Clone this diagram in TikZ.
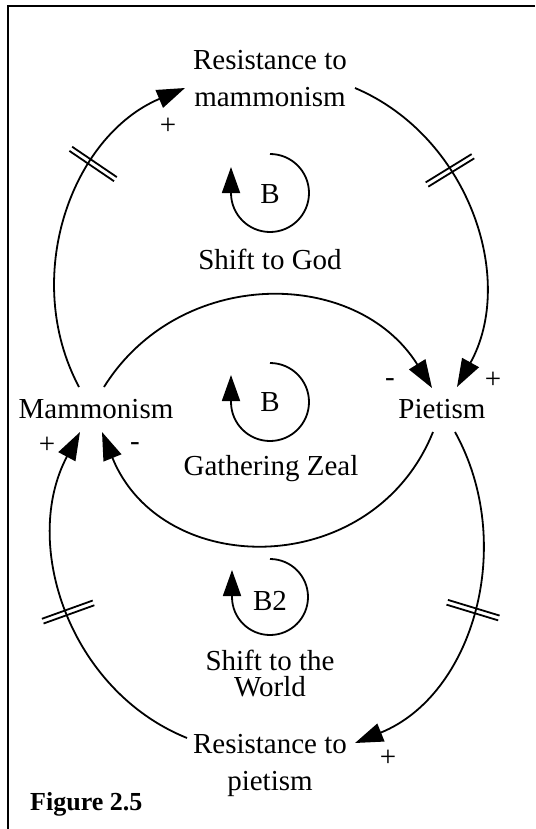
\documentclass[tikz,border=0pt]{standalone}
\usepackage{fontspec}
\setmainfont{Liberation Serif}
\usepackage{tikz}
\usetikzlibrary{positioning, arrows.meta, decorations.markings}
\tikzset{
    var/.style={font=\fontsize{29}{37}\selectfont, align=center, inner sep=2pt},
    link/.style={line width=1.8pt, -{Triangle[length=28pt, width=19pt]}},
    loopsym/.style={line width=1.8pt, -{Triangle[length=26pt, width=18pt]}},
    sign/.style={font=\fontsize{29}{30}\selectfont, inner sep=0pt},
    delay/.style={postaction={decorate, decoration={markings,
        mark=at position #1 with {\draw[-, line width=1.8pt] (-2.5pt,-27pt) -- (-2.5pt,27pt) (2.5pt,-27pt) -- (2.5pt,27pt);}}}}
}

\begin{document}
\begin{tikzpicture}[x=1pt, y=1pt]
    \useasboundingbox (0,0) rectangle (535,-829);
    % Frame
    \draw[line width=1.8pt] (8,-829) -- (8,-6) -- (535,-6);

    % Variables
    \node[var] (resm) at (270,-79) {Resistance to\\mammonism};
    \node[var] (mam) at (96,-409) {Mammonism};
    \node[var] (piet) at (442,-409) {Pietism};
    \node[var] (resp) at (270,-765) {Resistance to\\pietism};

    % Loop names
    \node[var] (god) at (270,-259) {Shift to God};
    \node[var] (zeal) at (271,-469) {Gathering Zeal};
    \node[var, font=\fontsize{29}{26}\selectfont] (world) at (270,-674) {Shift to the\\World};

    % Loop symbols
    \draw[loopsym] (270,-154) arc[start angle=90, end angle=-180, radius=39] -- ++(0,26);
    \node[var] (b1) at (270,-194) {B};
    \draw[loopsym] (270,-363) arc[start angle=90, end angle=-180, radius=39] -- ++(0,27);
    \node[var] (b2) at (270,-402) {B};
    \draw[loopsym] (270,-559) arc[start angle=90, end angle=-180, radius=38] -- ++(0,27);
    \node[var] (b3) at (270,-601) {B2};

    % Links
    \draw[link, delay=0.66] ([shift={(-17,22)}]mam.center) to[out=118, in=203] ([shift={(-85,-9)}]resm.center);
    \draw[link, delay=0.36] ([shift={(85,-9)}]resm.center) to[out=-23, in=61] ([shift={(15,22)}]piet.center);
    \draw[link] ([shift={(8,22)}]mam.center) to[out=58, in=122, looseness=1.11] ([shift={(-10,21)}]piet.center);
    \draw[link] ([shift={(-9,-23)}]piet.center) to[out=-112, in=-68, looseness=1.24] ([shift={(6,-23)}]mam.center);
    \draw[link, delay=0.5] ([shift={(13,-23)}]piet.center) to[out=-61, in=22] ([shift={(85,22)}]resp.center);
    \draw[link, delay=0.49] ([shift={(-83,27)}]resp.center) to[out=158, in=242] ([shift={(-16,-23)}]mam.center);

    % Polarities
    \node[sign] (p1) at (168,-126) {+};
    \node[sign] (m1) at (390,-383) {-};
    \node[sign] (p2) at (493,-380) {+};
    \node[sign] (p3) at (47,-445) {+};
    \node[sign] (m2) at (135,-447) {-};
    \node[sign] (p4) at (388,-758) {+};

    \node[font=\bfseries\fontsize{26}{30}\selectfont, anchor=base west, inner sep=0pt] (fig) at (30,-810) {Figure 2.5};
\end{tikzpicture}
\end{document}
